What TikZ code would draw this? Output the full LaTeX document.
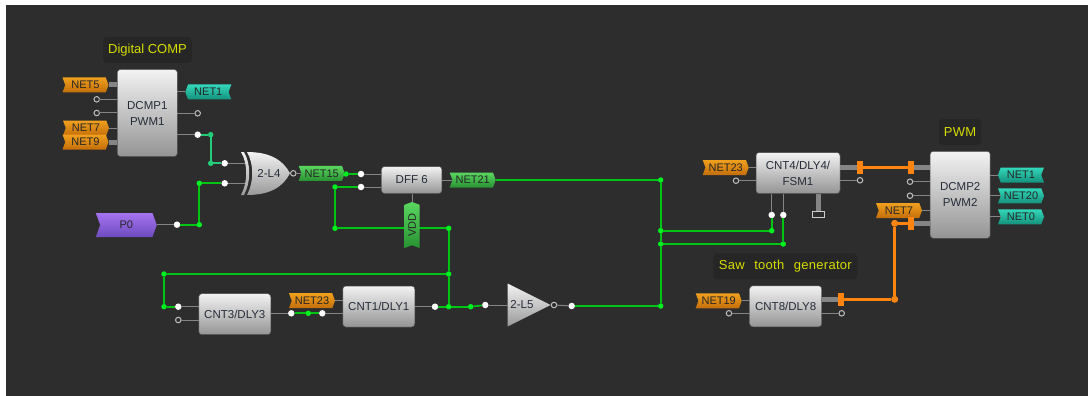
\documentclass[tikz,border=0pt]{standalone}
\usepackage{fontspec}
\setmainfont{Liberation Sans}
\newfontfamily\notefont[LetterSpace=2,WordSpace=2.5]{Liberation Sans}
\usetikzlibrary{shapes.symbols,shapes.geometric}
\definecolor{panelbg}{HTML}{2D2D2D}
\definecolor{notebg}{HTML}{262626}
\definecolor{noteyellow}{HTML}{D6DE00}
\definecolor{wiregreen}{HTML}{00C414}
\definecolor{dotgreen}{HTML}{00F020}
\definecolor{wireteal}{HTML}{22CC78}
\definecolor{wireorange}{HTML}{FF8410}
\definecolor{pingray}{HTML}{858585}
\definecolor{inktext}{HTML}{262C38}
\tikzset{
  blockbox/.style={draw=gray!60!black, line width=.5pt, rounded corners=3pt, top color=white!95!black, bottom color=black!42, inner sep=0pt, outer sep=0pt, text=inktext, align=center, font=\fontsize{11.5}{16}\selectfont},
  gateshade/.style={top color=white!95!black, bottom color=black!40},
  gatetext/.style={text=inktext, inner sep=0pt, font=\fontsize{11.5}{14}\selectfont},
  tagbase/.style={shape=signal, signal pointer angle=140, draw=none, minimum width=46pt, minimum height=15pt, inner sep=0pt, outer sep=0pt, font=\fontsize{11}{13}\selectfont, text=black!85},
  tagright/.style={tagbase, signal to=east, signal from=west},
  tagleft/.style={tagbase, signal to=west, signal from=east},
  orangetag/.style={tagright, top color={rgb,255:red,240;green,160;blue,30}, bottom color={rgb,255:red,195;green,110;blue,10}},
  tealtag/.style={top color={rgb,255:red,50;green,215;blue,185}, bottom color={rgb,255:red,20;green,145;blue,125}},
  greentag/.style={tagright, top color={rgb,255:red,90;green,215;blue,95}, bottom color={rgb,255:red,40;green,145;blue,50}},
  purpletag/.style={tagright, top color={rgb,255:red,165;green,115;blue,240}, bottom color={rgb,255:red,110;green,75;blue,190}, minimum width=61pt, minimum height=24pt},
  notebox/.style={shape=rectangle, fill=notebg, rounded corners=4pt, text=noteyellow, inner sep=0pt, font=\notefont\fontsize{13}{15}\selectfont},
  ringdot/.style={shape=circle, draw=black!25, line width=1pt, fill=panelbg, minimum size=5.5pt, inner sep=0pt, outer sep=0pt},
  whitedot/.style={shape=circle, fill=white, minimum size=6.5pt, inner sep=0pt, outer sep=0pt},
  netdot/.style={shape=circle, fill=dotgreen, minimum size=5.5pt, inner sep=0pt, outer sep=0pt},
  tealdot/.style={shape=circle, fill=wireteal, minimum size=5.5pt, inner sep=0pt, outer sep=0pt},
  orangedot/.style={shape=circle, fill=wireorange, minimum size=7pt, inner sep=0pt, outer sep=0pt},
  orangeend/.style={shape=rectangle, fill=wireorange, minimum width=6pt, minimum height=13pt, inner sep=0pt, outer sep=0pt},
  thinpin/.style={-, line width=1pt, draw=pingray},
  widepin/.style={-, line width=5pt, draw=pingray},
  greenwire/.style={-, line width=1.7pt, draw=wiregreen},
  tealwire/.style={-, line width=1.7pt, draw=wireteal},
  orangewire/.style={-, line width=3pt, draw=wireorange}
}
\begin{document}
\begin{tikzpicture}[x=1pt, y=-1pt]
\useasboundingbox (0,0) rectangle (1088,396);
\fill[white] (0,0) rectangle (1088,396);
\fill[panelbg] (6,5) rectangle (1088,396);
\node[notebox, font=\fontsize{13}{15}\selectfont, minimum width=89pt, minimum height=26pt] (notecomp) at (147.5,50) {Digital COMP};
\node[notebox, minimum width=42pt, minimum height=26pt] (notepwm) at (960,132) {PWM};
\node[notebox, minimum width=144pt, minimum height=26pt] (notesaw) at (785.3,266.3) {Saw tooth generator};
\node[blockbox, minimum width=60pt, minimum height=87pt] (dcmp1) at (147.3,113) {DCMP1\\PWM1};
\node[blockbox, minimum width=60.5pt, minimum height=27pt] (dff6) at (411.7,180) {DFF 6};
\node[blockbox, minimum width=72pt, minimum height=41pt] (cnt3) at (234.8,314.2) {CNT3/DLY3};
\node[blockbox, minimum width=72pt, minimum height=41pt] (cnt1) at (378.8,306.5) {CNT1/DLY1};
\node[blockbox, minimum width=84pt, minimum height=41pt] (cnt4) at (798,173) {CNT4/DLY4/\\FSM1};
\node[blockbox, minimum width=72pt, minimum height=41pt] (cnt8) at (785.7,306.3) {CNT8/DLY8};
\node[blockbox, minimum width=60pt, minimum height=87pt] (dcmp2) at (960.2,194.8) {DCMP2\\PWM2};
\shade[gateshade] (241,152) .. controls (248,164) and (248,182) .. (241,195) -- (244,195) .. controls (251,182) and (251,164) .. (244,152) -- cycle;
\shade[gateshade] (247,152) .. controls (270,152) and (283,160) .. (290,173.3) .. controls (283,187) and (270,195) .. (247,195) .. controls (254,182) and (254,164) .. (247,152) -- cycle;
\node[gatetext] (xorl4) at (269,173.3) {2-L4};
\coordinate (xorin1) at (245,163.3);
\coordinate (xorin2) at (245,183.3);
\node[shape=isosceles triangle, isosceles triangle apex angle=53, top color=white!95!black, bottom color=black!40, minimum height=43pt, inner sep=0pt, outer sep=0pt] (invl5) at (521,305) {};
\node[gatetext] (textl5) at (522,305) {2-L5};
\node[orangetag] (net5) at (85.5,85) {NET5};
\node[orangetag] (net7a) at (86,128) {NET7};
\node[orangetag] (net9) at (85.5,142) {NET9};
\node[tagleft, tealtag] (net1a) at (208.3,92) {NET1};
\node[purpletag] (p0) at (126.3,225) {P0};
\node[greentag] (net15) at (321.7,173.3) {NET15};
\node[greentag] (net21) at (472.7,180) {NET21};
\node[orangetag] (net23a) at (312,300.7) {NET23};
\node[orangetag] (net23b) at (725.7,167.5) {NET23};
\node[orangetag] (net19) at (718.7,300.8) {NET19};
\node[orangetag] (net7b) at (899,210.5) {NET7};
\node[tagleft, tealtag] (net1b) at (1021,175) {NET1};
\node[tagright, tealtag] (net20) at (1021,195.8) {NET20};
\node[tagright, tealtag] (net0) at (1021,216.8) {NET0};
\node[ringdot] (r1) at (96.7,99.3) {};
\node[ringdot] (r2) at (96.7,113) {};
\node[ringdot] (r3) at (197.7,113.3) {};
\node[ringdot] (r4) at (293.3,173.3) {};
\node[ringdot] (r5) at (178.3,320) {};
\node[ringdot] (r6) at (554,305) {};
\node[ringdot] (r7) at (736,180.7) {};
\node[ringdot] (r8) at (860,180.3) {};
\node[ringdot] (r9) at (910,181.7) {};
\node[ringdot] (r10) at (910,195.7) {};
\node[ringdot] (r11) at (729,313.3) {};
\node[ringdot] (r12) at (841.7,313.3) {};
\node[whitedot] (w1) at (197.7,134.7) {};
\node[whitedot] (w2) at (224.7,163.3) {};
\node[whitedot] (w3) at (224.7,183.3) {};
\node[whitedot] (w4) at (177,224.7) {};
\node[whitedot] (w5) at (361,174) {};
\node[whitedot] (w6) at (361,187) {};
\node[whitedot] (w7) at (178.3,306.7) {};
\node[whitedot] (w8) at (291.3,313.3) {};
\node[whitedot] (w9) at (322.3,313.3) {};
\node[whitedot] (w10) at (435,306.7) {};
\node[whitedot] (w11) at (485.3,305) {};
\node[whitedot] (w12) at (571.7,306) {};
\node[whitedot] (w13) at (771.7,215) {};
\node[whitedot] (w14) at (783.3,215) {};
\node[tealdot] (t1) at (210.7,134.7) {};
\node[tealdot] (t2) at (210.7,163.3) {};
\node[netdot] (n1) at (199.3,183.3) {};
\node[netdot] (n2) at (199.3,224.7) {};
\node[netdot] (n3) at (346,174) {};
\node[netdot] (n4) at (335,187) {};
\node[netdot] (n5) at (335,228.3) {};
\node[netdot] (n6) at (448.7,228.3) {};
\node[netdot] (n7) at (448.7,274) {};
\node[netdot] (n8) at (164,274) {};
\node[netdot] (n9) at (164,306.7) {};
\node[netdot] (n10) at (308.3,313.3) {};
\node[netdot] (n11) at (448.7,306.7) {};
\node[netdot] (n12) at (470.7,306.7) {};
\node[netdot] (n13) at (660.7,180) {};
\node[netdot] (n14) at (660.7,230.7) {};
\node[netdot] (n15) at (660.7,244) {};
\node[netdot] (n16) at (660.7,306) {};
\node[netdot] (n17) at (771.7,230.7) {};
\node[netdot] (n18) at (783.3,244) {};
\node[orangeend] (oe1) at (859.7,167) {};
\node[orangeend] (oe2) at (911,167) {};
\node[orangeend] (oe3) at (911,223.3) {};
\node[orangeend] (oe4) at (840.7,299.3) {};
\node[orangedot] (od1) at (894.7,223.3) {};
\node[orangedot] (od2) at (894.7,299.3) {};
\node[shape=rectangle, draw=black!20, line width=1pt, fill=panelbg, minimum width=12pt, minimum height=6pt, inner sep=0pt] (gnd) at (818.7,214) {};
\path [widepin] (net5.east) edge (dcmp1.west |- net5);
\path [thinpin] (r1) edge (dcmp1.west |- r1);
\path [thinpin] (r2) edge (dcmp1.west |- r2);
\path [thinpin] (net7a.east) edge (dcmp1.west |- net7a);
\path [widepin] (net9.east) edge (dcmp1.west |- net9);
\path [thinpin] (net1a.west) edge (dcmp1.east |- net1a);
\path [thinpin] (r3) edge (dcmp1.east |- r3);
\path [thinpin] (w1) edge (dcmp1.east |- w1);
\path [thinpin] (w2) edge (xorin1);
\path [thinpin] (w3) edge (xorin2);
\path [thinpin] (w4) edge (p0.east |- w4);
\path [thinpin] (r4) edge (net15.west);
\path [thinpin] (w5) edge (dff6.west |- w5);
\path [thinpin] (w6) edge (dff6.west |- w6);
\path [thinpin] (net21.west) edge (dff6.east |- net21);
\path [thinpin] (w7) edge (cnt3.west |- w7);
\path [thinpin] (r5) edge (cnt3.west |- r5);
\path [thinpin] (w8) edge (cnt3.east |- w8);
\path [thinpin] (w9) edge (cnt1.west |- w9);
\path [thinpin] (net23a.east) edge (cnt1.west |- net23a);
\path [thinpin] (w10) edge (cnt1.east |- w10);
\path [thinpin] (w11) edge (invl5.west |- w11);
\path [thinpin] (r6) edge (w12);
\path [thinpin] (net23b.east) edge (cnt4.west |- net23b);
\path [thinpin] (r7) edge (cnt4.west |- r7);
\path [thinpin] (r8) edge (cnt4.east |- r8);
\path [thinpin] (w13) edge (w13 |- cnt4.south);
\path [thinpin] (w14) edge (w14 |- cnt4.south);
\path [widepin] (gnd.north) edge (gnd |- cnt4.south);
\path [widepin] (oe1) edge (cnt4.east |- oe1);
\path [widepin] (oe2) edge (dcmp2.west |- oe2);
\path [widepin] (oe3) edge (dcmp2.west |- oe3);
\path [widepin] (oe4) edge (cnt8.east |- oe4);
\path [thinpin] (r9) edge (dcmp2.west |- r9);
\path [thinpin] (r10) edge (dcmp2.west |- r10);
\path [thinpin] (net7b.east) edge (dcmp2.west |- net7b);
\path [thinpin] (net1b.west) edge (dcmp2.east |- net1b);
\path [thinpin] (net20.west) edge (dcmp2.east |- net20);
\path [thinpin] (net0.west) edge (dcmp2.east |- net0);
\path [thinpin] (net19.east) edge (cnt8.west |- net19);
\path [thinpin] (r11) edge (cnt8.west |- r11);
\path [thinpin] (r12) edge (cnt8.east |- r12);
\path [tealwire] (w1) edge (t1);
\path [tealwire] (t1) edge (t2);
\path [tealwire] (t2) edge (w2);
\path [greenwire] (w3) edge (n1);
\path [greenwire] (n1) edge (n2);
\path [greenwire] (n2) edge (w4);
\path [greenwire] (net15.east) edge (n3);
\path [greenwire] (n3) edge (w5);
\path [greenwire] (w6) edge (n4);
\path [greenwire] (n4) edge (n5);
\path [greenwire] (n5) edge (n6);
\path [greenwire] (n6) edge (n7);
\path [greenwire] (n7) edge (n11);
\path [greenwire] (n7) edge (n8);
\path [greenwire] (n8) edge (n9);
\path [greenwire] (n9) edge (w7);
\path [greenwire] (w8) edge (n10);
\path [greenwire] (n10) edge (w9);
\path [greenwire] (w10) edge (n11);
\path [greenwire] (n11) edge (n12);
\path [greenwire] (n12) edge (w11);
\path [greenwire] (w12) edge (n16);
\path [greenwire] (net21.east) edge (n13);
\path [greenwire] (n13) edge (n14);
\path [greenwire] (n14) edge (n15);
\path [greenwire] (n15) edge (n16);
\path [greenwire] (n14) edge (n17);
\path [greenwire] (n17) edge (w13);
\path [greenwire] (n15) edge (n18);
\path [greenwire] (n18) edge (w14);
\path [orangewire] (oe1) edge (oe2);
\path [orangewire] (oe3) edge (od1);
\path [orangewire] (od1) edge (od2);
\path [orangewire] (od2) edge (oe4);
\node[greentag, rotate=90] (vdd) at (412,225) {VDD};
\path [thinpin] (vdd.east) edge (vdd |- dff6.south);
\end{tikzpicture}
\end{document}
